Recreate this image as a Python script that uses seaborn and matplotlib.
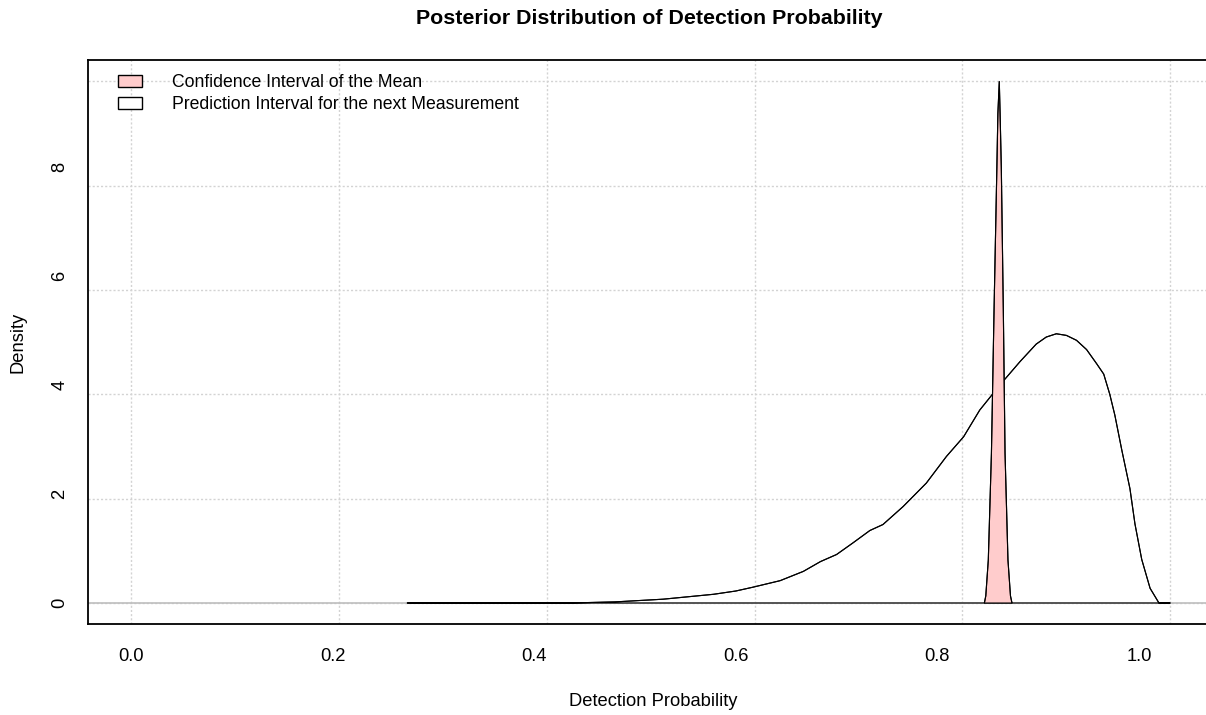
import numpy as np
import pandas as pd
import matplotlib
matplotlib.use("Agg")
import matplotlib.pyplot as plt
from matplotlib import font_manager
from matplotlib.patches import Patch
import seaborn as sns

# ---------------- data ----------------
pred_x = [0.274, 0.435, 0.480, 0.528, 0.578, 0.600, 0.617, 0.644, 0.667, 0.684,
          0.700, 0.716, 0.733, 0.746, 0.766, 0.789, 0.809, 0.826, 0.842, 0.862,
          0.882, 0.898, 0.908, 0.918, 0.928, 0.938, 0.948, 0.958, 0.965, 0.971,
          0.976, 0.983, 0.991, 0.996, 1.0027, 1.011, 1.0198, 1.031]
pred_y = [0.000, 0.000, 0.020, 0.070, 0.160, 0.220, 0.290, 0.410, 0.580, 0.760,
          0.890, 1.100, 1.330, 1.440, 1.770, 2.200, 2.690, 3.050, 3.540, 4.000,
          4.430, 4.750, 4.880, 4.940, 4.910, 4.820, 4.650, 4.390, 4.200, 3.830,
          3.450, 2.800, 2.100, 1.450, 0.800, 0.270, 0.000, 0.000]

ci_x = [0.8466, 0.8480, 0.8505, 0.8536, 0.8562, 0.8590, 0.8600, 0.8614,
        0.8622, 0.8634, 0.8654, 0.8671, 0.8700, 0.8725, 0.8740]
ci_y = [0.00, 0.13, 0.79, 2.75, 5.38, 8.00, 8.98, 9.57,
        8.98, 8.00, 5.38, 2.75, 0.79, 0.13, 0.00]

x_ticks = [0.0, 0.2, 0.4, 0.6, 0.8, 1.0]
x_tick_labels = ["0.0", "0.2", "0.4", "0.6", "0.8", "1.0"]
y_ticks = [0, 2, 4, 6, 8]
y_tick_labels = ["0", "2", "4", "6", "8"]

title = "Posterior Distribution of Detection Probability"
x_label = "Detection Probability"
y_label = "Density"
legend_labels = ["Confidence Interval of the Mean",
                 "Prediction Interval for the next Measurement"]

pred_df = pd.DataFrame({"x": pred_x, "y": pred_y})
ci_df = pd.DataFrame({"x": ci_x, "y": ci_y})

# ---------------- style ----------------
sns.set_theme(style="white")
names = {f.name for f in font_manager.fontManager.ttflist}
if "Liberation Sans Narrow" in names:
    fam = ["Liberation Sans Narrow", "DejaVu Sans"]
    k = 1.0
else:
    fam = ["Liberation Sans", "DejaVu Sans"]
    k = 0.88
plt.rcParams["font.family"] = fam
plt.rcParams["text.color"] = "black"

W, H = 1206, 715
fig = plt.figure(figsize=(W / 100, H / 100), dpi=100)
fig.patch.set_facecolor("white")

# axes box in pixels: left 88, right 1211 (beyond the image), top 60, bottom 624
L, R, T, B = 88, 1211, 60, 624
ax = fig.add_axes([L / W, (H - B) / H, (R - L) / W, (B - T) / H])
ax.set_facecolor("white")

x0, y0 = 131.0, 603.0      # pixel of data (0,0)
sx, sy = 1008.0, 54.5      # pixels per data unit
ax.set_xlim((L - x0) / sx, (R - x0) / sx)
ax.set_ylim((y0 - B) / sy, (y0 - T) / sy)

# grid like R's grid(): equally spaced over data range, light gray dotted
grid_col = "#d3d3d3"
for gx in np.linspace(0, max(pred_x), 6):
    ax.axvline(gx, color=grid_col, lw=1.0, ls=(0, (1.5, 1.5)), zorder=0)
for gy in np.linspace(0, max(ci_y), 6):
    ax.axhline(gy, color=grid_col, lw=1.0, ls=(0, (1.5, 1.5)), zorder=0)

# horizontal reference at zero
ax.axhline(0, color="#bebebe", lw=1.2, zorder=1)

# prediction density (outline only)
ax.fill(pred_df["x"], pred_df["y"], facecolor="none", edgecolor="black",
        lw=0.8, zorder=2)
sns.lineplot(data=pred_df, x="x", y="y", sort=False, estimator=None,
             color="black", lw=0.8, ax=ax, zorder=3)

# confidence interval of the mean (pink fill)
ax.fill(ci_df["x"], ci_df["y"], facecolor="#ffcccc", edgecolor="black",
        lw=0.8, zorder=4)
sns.lineplot(data=ci_df, x="x", y="y", sort=False, estimator=None,
             color="black", lw=0.8, ax=ax, zorder=5)

# axes
for s in ["left", "bottom", "top", "right"]:
    ax.spines[s].set_visible(True)
    ax.spines[s].set_color("black")
    ax.spines[s].set_linewidth(1.3)

ax.set_xticks(x_ticks)
ax.set_xticklabels(x_tick_labels)
ax.set_yticks(y_ticks)
ax.set_yticklabels(y_tick_labels, rotation=90, va="center")
ax.tick_params(axis="both", which="major", direction="out", length=8,
               width=1.2, color="#333333", labelsize=15 * k, labelcolor="black")
ax.tick_params(axis="x", pad=9)
ax.tick_params(axis="y", pad=6)

ax.set_xlabel(x_label, fontsize=15 * k, color="black")
ax.xaxis.label.set_va("center")
ax.xaxis.set_label_coords((653 - L) / (R - L), (B - 702) / (B - T))
ax.set_ylabel(y_label, fontsize=15 * k, color="black")
ax.yaxis.label.set_va("center")
ax.yaxis.set_label_coords((18 - L) / (R - L), 0.5)

ax.set_title(title, fontsize=17.5 * k, fontweight="bold", color="black",
             y=(B - 18.5) / (B - T), va="center", pad=0)

fs_leg = 14.4 * k
fs_px = fs_leg * 100 / 72
handles = [Patch(facecolor="#ffcccc", edgecolor="black", lw=1.0),
           Patch(facecolor="white", edgecolor="black", lw=1.0)]
leg = ax.legend(handles, legend_labels, loc="upper left",
                bbox_to_anchor=(118 / W, 1 - 74 / H),
                bbox_transform=fig.transFigure, frameon=False,
                fontsize=fs_leg, handlelength=24 / fs_px,
                handleheight=11 / fs_px, handletextpad=30 / fs_px,
                labelspacing=0.3, borderpad=0, borderaxespad=0)
for t in leg.get_texts():
    t.set_color("black")

fig.savefig("out.png", dpi=100, facecolor="white")
